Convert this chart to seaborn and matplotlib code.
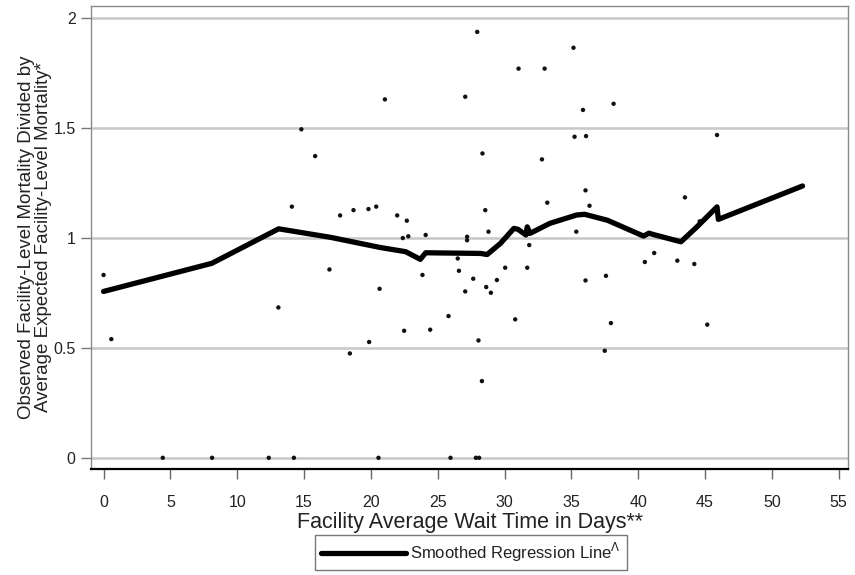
import matplotlib
matplotlib.use("Agg")
import matplotlib.pyplot as plt
import seaborn as sns
import pandas as pd
from matplotlib.lines import Line2D

# facility points
wait_days = [0.0, 0.58, 4.43, 8.12, 12.36, 13.08, 14.09, 14.24, 14.8, 15.83, 16.9, 17.7,
             18.43, 18.7, 19.82, 19.87, 20.4, 20.57, 20.65, 21.05, 21.97, 22.39, 22.49,
             22.69, 22.8, 23.86, 24.1, 24.44, 25.81, 25.96, 26.5, 26.59, 27.06, 27.06,
             27.2, 27.2, 27.66, 27.86, 27.96, 28.05, 28.1, 28.31, 28.35, 28.56, 28.63,
             28.8, 28.98, 29.43, 30.05, 30.8, 31.05, 31.7, 31.85, 32.8, 33.0, 33.2, 35.16,
             35.24, 35.37, 35.87, 36.06, 36.06, 36.1, 36.36, 37.5, 37.59, 37.96, 38.16,
             40.5, 41.2, 42.93, 43.5, 44.2, 44.6, 45.17, 45.9]
mortality_ratio = [0.832, 0.54, 0.0, 0.0, 0.0, 0.684, 1.143, 0.0, 1.495, 1.373, 0.857, 1.103,
                   0.475, 1.127, 1.132, 0.527, 1.143, 0.0, 0.769, 1.631, 1.103, 1.0, 0.578,
                   1.079, 1.008, 0.832, 1.014, 0.583, 0.645, 0.0, 0.907, 0.851, 1.643, 0.757,
                   1.006, 0.99, 0.815, 0.0, 1.938, 0.534, 0.0, 0.349, 1.385, 1.127, 0.777,
                   1.029, 0.751, 0.809, 0.865, 0.63, 1.771, 0.865, 0.968, 1.358, 1.771, 1.161,
                   1.866, 1.461, 1.029, 1.583, 1.217, 0.807, 1.464, 1.147, 0.487, 0.828, 0.613,
                   1.611, 0.891, 0.932, 0.897, 1.185, 0.882, 1.076, 0.606, 1.469]

# smoothed regression line
smooth_x = [0.0, 8.1, 13.1, 17.0, 20.7, 22.6, 23.7, 24.1, 28.2, 28.7, 29.7, 30.7, 31.0, 31.6,
            31.7, 31.9, 33.4, 35.4, 36.0, 37.7, 40.4, 40.8, 41.2, 43.2, 44.4, 45.9, 46.0, 52.3]
smooth_y = [0.757, 0.885, 1.042, 1.003, 0.957, 0.938, 0.903, 0.933, 0.930, 0.925, 0.976,
            1.044, 1.040, 1.014, 1.051, 1.021, 1.067, 1.105, 1.108, 1.081, 1.009, 1.022,
            1.015, 0.983, 1.051, 1.142, 1.085, 1.237]

x_ticks = list(range(0, 60, 5))
y_ticks = [0, 0.5, 1, 1.5, 2]
y_tick_labels = ["0", "0.5", "1", "1.5", "2"]

sns.set_style("white")
plt.rcParams["font.family"] = ["Liberation Sans", "DejaVu Sans"]

pts = pd.DataFrame({"x": wait_days, "y": mortality_ratio})
line = pd.DataFrame({"x": smooth_x, "y": smooth_y})

fig = plt.figure(figsize=(8.55, 5.75), dpi=100)
ax = fig.add_axes([91 / 855, 1 - 469 / 575, (848 - 91) / 855, (469 - 6) / 575])

for yv in y_ticks:
    ax.axhline(yv, color="#c8c8c8", lw=1.8, zorder=0)

sns.scatterplot(data=pts, x="x", y="y", ax=ax, color="#111111", marker="o", s=10,
                edgecolor="none", zorder=3, legend=False)
sns.lineplot(data=line, x="x", y="y", ax=ax, color="black", lw=3.8, sort=False,
             estimator=None, zorder=4, legend=False, solid_capstyle="round",
             solid_joinstyle="round")

ax.set_xlim(-0.94, 55.7)
ax.set_ylim(-0.051, 2.056)
ax.set_xticks(x_ticks)
ax.set_yticks(y_ticks)
ax.set_yticklabels(y_tick_labels)

for side in ["left", "top", "right"]:
    ax.spines[side].set_color("#8a8a8a")
    ax.spines[side].set_linewidth(1.0)
ax.spines["bottom"].set_color("black")
ax.spines["bottom"].set_linewidth(1.6)

ax.tick_params(axis="x", direction="out", length=7, width=1.0, color="#666666",
               labelsize=11.5, pad=12, labelcolor="#222222")
ax.tick_params(axis="y", direction="out", length=7, width=1.0, color="#777777",
               labelsize=11.5, pad=4, labelcolor="#222222")
ax.tick_params(bottom=True, left=True)

ax.set_xlabel("Facility Average Wait Time in Days**", fontsize=15.5, labelpad=1,
              color="#222222")
ax.set_ylabel("Observed Facility-Level Mortality Divided by\nAverage Expected Facility-Level Mortality*",
              fontsize=13.5, labelpad=1, linespacing=1.0, color="#222222")

handle = Line2D([], [], color="black", lw=3.8, solid_capstyle="round")
leg = fig.legend([handle], ["Smoothed Regression Line$^{\\Lambda}$"], loc="upper center",
                 bbox_to_anchor=(471 / 855, 1 - 535 / 575), frameon=True, fancybox=False,
                 fontsize=12, handlelength=5.1, handletextpad=0.25, borderpad=0.35,
                 borderaxespad=0)
leg.get_frame().set_edgecolor("#555555")
leg.get_frame().set_linewidth(1.0)
for t in leg.get_texts():
    t.set_color("#222222")

fig.savefig("out.png", dpi=100)
